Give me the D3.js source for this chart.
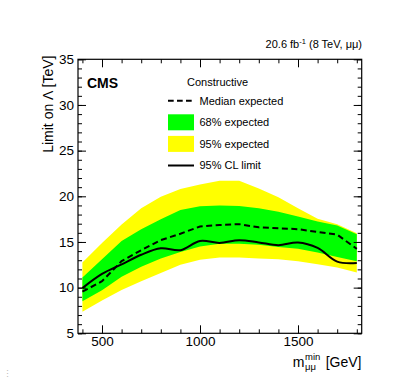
<!DOCTYPE html>
<html>
<head>
<meta charset="utf-8">
<script src="https://cdn.jsdelivr.net/npm/d3@7/dist/d3.min.js"></script>
<style>
  html, body { margin: 0; padding: 0; background: #fff; }
  svg { display: block; font-family: "Liberation Sans", Arial, Helvetica, sans-serif; }
</style>
</head>
<body>
<svg id="chart" width="407" height="391"></svg>
<script>
// ---- data ----
const massValues = [400, 500, 600, 700, 800, 900, 1000, 1100, 1200, 1300, 1400, 1500, 1600, 1700, 1800];
const expected95Low  = [7.35, 8.6, 9.75, 10.7, 11.6, 12.5, 13.05, 13.3, 13.3, 13.2, 13.1, 12.9, 12.55, 12.2, 11.65];
const expected95High = [12.75, 14.9, 16.9, 18.7, 19.95, 20.8, 21.3, 21.7, 21.7, 20.85, 19.9, 18.7, 17.55, 16.95, 15.95];
const expected68Low  = [8.5, 9.7, 11.2, 12.3, 13.2, 13.9, 14.5, 14.8, 14.8, 14.7, 14.45, 14.25, 13.85, 13.35, 12.9];
const expected68High = [11.1, 13.1, 15.1, 16.4, 17.5, 18.5, 18.9, 19.0, 18.95, 18.7, 18.3, 17.8, 17.25, 16.8, 15.85];
const medianExpected = [9.55, 10.7, 12.9, 14.1, 15.2, 15.9, 16.7, 16.85, 16.95, 16.6, 16.5, 16.4, 16.1, 15.8, 14.25];
const observedLimit  = [9.95, 11.5, 12.55, 13.6, 14.3, 14.1, 15.1, 14.9, 15.2, 14.95, 14.65, 14.95, 14.35, 12.85, 12.7];

const xMajorTicks = [500, 1000, 1500];
const xMinorTicks = d3.range(400, 1801, 100);
const yMajorTicks = [5, 10, 15, 20, 25, 30, 35];
const yMinorTicks = d3.range(5, 35.01, 1);

const legendItems = [
  {label: "Median expected", kind: "dash"},
  {label: "68% expected", kind: "green"},
  {label: "95% expected", kind: "yellow"},
  {label: "95% CL limit", kind: "solid"}
];

// ---- layout ----
const pL = 78, pR = 361.7, pT = 59.3, pB = 333.3;
const svg = d3.select("#chart");

const x = d3.scaleLinear().domain([377.5, 1825]).range([pL, pR]);
const y = d3.scaleLinear().domain([5, 35]).range([pB, pT]);

const rows = massValues.map((m, i) => ({
  m, y95l: expected95Low[i], y95h: expected95High[i],
  y68l: expected68Low[i], y68h: expected68High[i],
  med: medianExpected[i], obs: observedLimit[i]
}));

svg.append("defs").append("clipPath").attr("id", "clip")
  .append("rect").attr("x", pL).attr("y", pT)
  .attr("width", pR - pL).attr("height", pB - pT);

const plot = svg.append("g").attr("clip-path", "url(#clip)");

plot.append("path").datum(rows)
  .attr("fill", "#ffff00")
  .attr("d", d3.area().x(d => x(d.m)).y0(d => y(d.y95l)).y1(d => y(d.y95h)));

plot.append("path").datum(rows)
  .attr("fill", "#00ff00")
  .attr("d", d3.area().x(d => x(d.m)).y0(d => y(d.y68l)).y1(d => y(d.y68h)));

plot.append("path").datum(rows)
  .attr("fill", "none").attr("stroke", "#000").attr("stroke-width", 2)
  .attr("stroke-dasharray", "6,3.5")
  .attr("d", d3.line().x(d => x(d.m)).y(d => y(d.med)));

plot.append("path").datum(rows)
  .attr("fill", "none").attr("stroke", "#000").attr("stroke-width", 2)
  .attr("d", d3.line().curve(d3.curveCatmullRom.alpha(0.5)).x(d => x(d.m)).y(d => y(d.obs)));

// ---- axes ----
function styleAxis(g) {
  g.select(".domain").remove();
  g.selectAll(".tick line").attr("stroke", "#000").attr("stroke-width", 1);
  g.selectAll(".tick text").attr("fill", "#000");
}
const blank = () => "";

// bottom
svg.append("g").attr("transform", `translate(0,${pB})`)
  .call(d3.axisBottom(x).tickValues(xMinorTicks).tickSize(-4).tickFormat(blank)).call(styleAxis);
svg.append("g").attr("transform", `translate(0,${pB})`)
  .call(d3.axisBottom(x).tickValues(xMajorTicks).tickSize(-8).tickPadding(4).tickFormat(d3.format("d")))
  .call(styleAxis)
  .call(g => g.selectAll(".tick text").attr("font-size", 13.5).attr("dy", null).attr("y", 12.5));
// top
svg.append("g").attr("transform", `translate(0,${pT})`)
  .call(d3.axisTop(x).tickValues(xMinorTicks).tickSize(-4).tickFormat(blank)).call(styleAxis);
svg.append("g").attr("transform", `translate(0,${pT})`)
  .call(d3.axisTop(x).tickValues(xMajorTicks).tickSize(-8).tickFormat(blank)).call(styleAxis);
// left
svg.append("g").attr("transform", `translate(${pL},0)`)
  .call(d3.axisLeft(y).tickValues(yMinorTicks).tickSize(-4).tickFormat(blank)).call(styleAxis);
svg.append("g").attr("transform", `translate(${pL},0)`)
  .call(d3.axisLeft(y).tickValues(yMajorTicks).tickSize(-8).tickPadding(4).tickFormat(d3.format("d")))
  .call(styleAxis)
  .call(g => g.selectAll(".tick text").attr("font-size", 13.5).attr("x", -4));
// right
svg.append("g").attr("transform", `translate(${pR},0)`)
  .call(d3.axisRight(y).tickValues(yMinorTicks).tickSize(-4).tickFormat(blank)).call(styleAxis);
svg.append("g").attr("transform", `translate(${pR},0)`)
  .call(d3.axisRight(y).tickValues(yMajorTicks).tickSize(-8).tickFormat(blank)).call(styleAxis);

// frame
svg.append("rect").attr("x", pL).attr("y", pT)
  .attr("width", pR - pL).attr("height", pB - pT)
  .attr("fill", "none").attr("stroke", "#000").attr("stroke-width", 1.2);

// ---- axis titles ----
const xt = svg.append("g");
xt.append("text").attr("x", 361.5).attr("y", 366.5).attr("text-anchor", "end")
  .attr("font-size", 14).text("[GeV]");
xt.append("text").attr("x", 304.5).attr("y", 366.5).attr("text-anchor", "end")
  .attr("font-size", 14).text("m");
xt.append("text").attr("x", 305).attr("y", 360).attr("font-size", 9.5).text("min");
xt.append("text").attr("x", 305).attr("y", 369.5).attr("font-size", 9.5).text("μμ");

svg.append("text").attr("transform", "translate(52.5,55.5) rotate(-90)")
  .attr("text-anchor", "end").attr("font-size", 14).text("Limit on Λ [TeV]");

// top-right label
const lumi = svg.append("text").attr("x", 362).attr("y", 48).attr("text-anchor", "end").attr("font-size", 11);
lumi.append("tspan").text("20.6 fb");
lumi.append("tspan").attr("dy", -4).attr("font-size", 7.5).text("-1");
lumi.append("tspan").attr("dy", 4).text(" (8 TeV, μμ)");

// CMS
svg.append("text").attr("x", 87).attr("y", 88).attr("font-size", 14).attr("font-weight", "bold").text("CMS");

// ---- legend ----
svg.append("text").attr("x", 187).attr("y", 86).attr("font-size", 11).text("Constructive");
const lg = svg.append("g");
legendItems.forEach((item, i) => {
  const cy = 100.7 + i * 21.6;
  if (item.kind === "dash" || item.kind === "solid") {
    lg.append("line").attr("x1", 168).attr("x2", 194).attr("y1", cy).attr("y2", cy)
      .attr("stroke", "#000").attr("stroke-width", 2)
      .attr("stroke-dasharray", item.kind === "dash" ? "5.7,3.3" : null);
  } else {
    lg.append("rect").attr("x", 168).attr("y", cy - 8).attr("width", 26).attr("height", 16)
      .attr("fill", item.kind === "green" ? "#00ff00" : "#ffff00");
  }
  lg.append("text").attr("x", 199.5).attr("y", cy + 3.8).attr("font-size", 11).text(item.label);
});

// small mark bottom-left
svg.append("text").attr("x", 3).attr("y", 377).attr("font-size", 9).attr("fill", "#bbb").text("⋮");
</script>
</body>
</html>
